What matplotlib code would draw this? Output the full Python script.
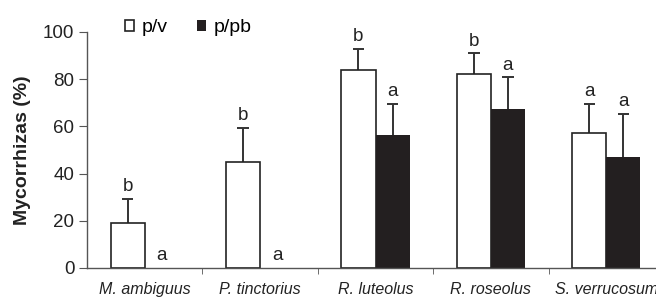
import numpy as np
import matplotlib.pyplot as plt

plt.rcParams['font.family'] = ['Liberation Sans', 'DejaVu Sans']

species = ["M. ambiguus", "P. tinctorius", "R. luteolus", "R. roseolus", "S. verrucosum"]
pv_mean = [19, 45, 84, 82, 57]
pv_err = [10.4, 14.3, 8.8, 8.9, 12.5]
pv_letter = ["b", "b", "b", "b", "a"]
pb_mean = [0, 0, 56.4, 67.4, 47.2]
pb_err = [0, 0, 13.1, 13.4, 18.1]
pb_letter = ["a", "a", "a", "a", "a"]

axis_col = "#555555"
err_col = "#333333"
fig = plt.figure(figsize=(6.56, 2.98), dpi=100)
ax = fig.add_axes([87 / 656, 30 / 298, 577 / 656, 236 / 298])

x = np.arange(len(species))
w = 0.295
cap = 0.05
ax.bar(x - w / 2, pv_mean, w, color="white", edgecolor="#222222", linewidth=1.2,
       label="p/v", zorder=2)
ax.bar(x + w / 2, pb_mean, w, color="#231f20", linewidth=0,
       label="p/pb", zorder=2)

# upward-only error bars with a top cap only
for xs, means, errs in [(x - w / 2, pv_mean, pv_err), (x + w / 2, pb_mean, pb_err)]:
    for xi, m, e in zip(xs, means, errs):
        if e <= 0:
            continue
        ax.vlines(xi, m, m + e, color=err_col, linewidth=1.4, zorder=1)
        ax.hlines(m + e, xi - cap, xi + cap, color=err_col, linewidth=1.4, zorder=1)

for xi, m, e, t in zip(x - w / 2, pv_mean, pv_err, pv_letter):
    ax.text(xi, m + e + 1.6, t, ha="center", va="bottom", fontsize=13.5, color="#222222")
for xi, m, e, t in zip(x + w / 2, pb_mean, pb_err, pb_letter):
    ax.text(xi, m + e + 1.6, t, ha="center", va="bottom", fontsize=13.5, color="#222222")

ax.set_xlim(-0.5, len(species) - 0.5)
ax.set_ylim(0, 100)
ax.set_yticks(np.arange(0, 101, 20))
ax.set_xticks(x)
ax.set_xticklabels(species, fontsize=11.5, style="italic", color="#222222")
ax.set_xticks(np.arange(0.5, len(species) - 0.5, 1), minor=True)
ax.tick_params(axis="x", which="major", length=0, pad=10)
ax.tick_params(axis="x", which="minor", length=4, direction="out", color=axis_col)
ax.tick_params(axis="y", length=6, direction="out", color=axis_col, labelsize=13.5,
               labelcolor="#222222", pad=3)
for s in ["top", "right"]:
    ax.spines[s].set_visible(False)
for s in ["left", "bottom"]:
    ax.spines[s].set_color(axis_col)
    ax.spines[s].set_linewidth(1.0)

ax.set_ylabel("Mycorrhizas (%)", fontsize=14, fontweight="bold", color="#222222",
              labelpad=9)

leg = ax.legend(loc="center left", bbox_to_anchor=(125 / 656, 1 - 28 / 298),
                bbox_transform=fig.transFigure, ncol=2, frameon=False,
                fontsize=14, handlelength=0.46, handleheight=0.46, handletextpad=0.4,
                columnspacing=1.5, borderpad=0, borderaxespad=0)

fig.savefig("out.png", dpi=100)
